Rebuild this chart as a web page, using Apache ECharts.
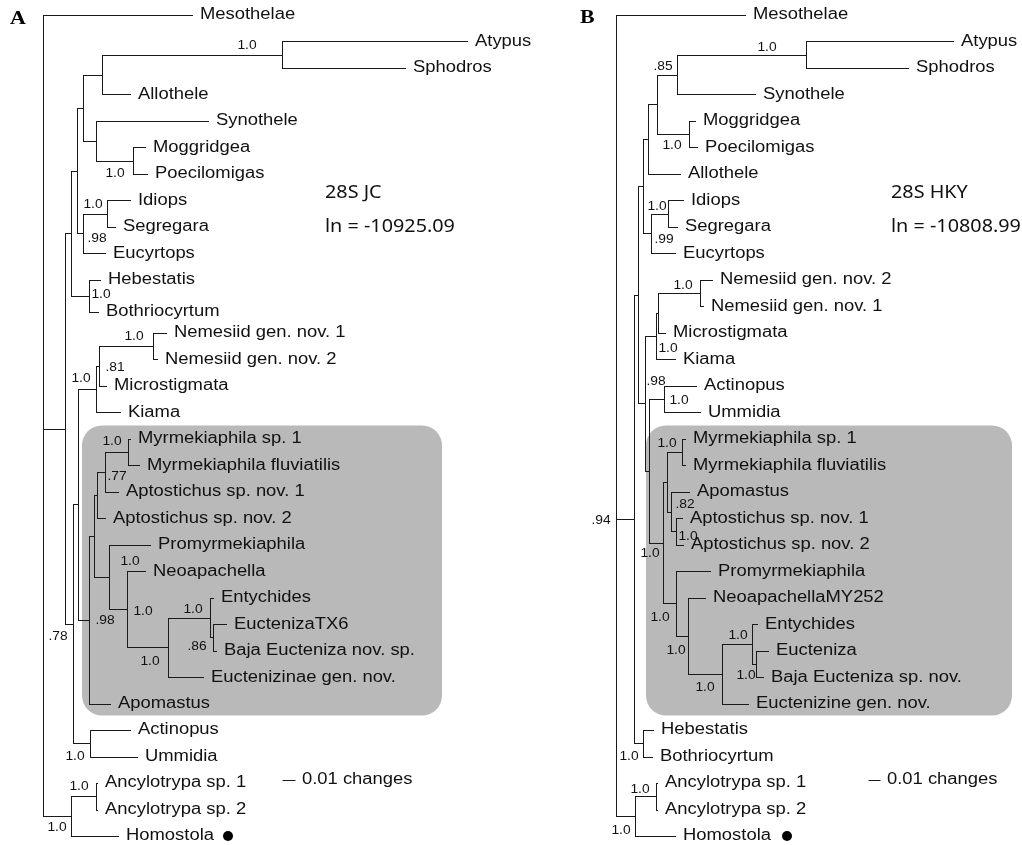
<!DOCTYPE html>
<html><head><meta charset="utf-8">
<script src="https://cdn.jsdelivr.net/npm/echarts@6/dist/echarts.min.js"></script>
<style>html,body{margin:0;padding:0;background:#fff}#c{width:1022px;height:845px}</style>
</head><body><div id="c"></div>
<script>
// ---------- Panel A (28S JC) ----------
const leavesA = ["Mesothelae","Atypus","Sphodros","Allothele","Synothele","Moggridgea","Poecilomigas","Idiops","Segregara","Eucyrtops","Hebestatis","Bothriocyrtum","Nemesiid gen. nov. 1","Nemesiid gen. nov. 2","Microstigmata","Kiama","Myrmekiaphila sp. 1","Myrmekiaphila fluviatilis","Aptostichus sp. nov. 1","Aptostichus sp. nov. 2","Promyrmekiaphila","Neoapachella","Entychides","EuctenizaTX6","Baja Eucteniza nov. sp.","Euctenizinae gen. nov.","Apomastus","Actinopus","Ummidia","Ancylotrypa sp. 1","Ancylotrypa sp. 2","Homostola"];
const rowsA = [0,1,2,3,4,5,6,7,8,9,10,11.2,12,13,14,15,16,17,18,19,20,21,22,23,24,25,26,27,28,29,30,31];
const tipDepthA = [149,424,362,87,165,102,104,87,72,62,57,55,123,114,63,77,87,96,75,62,107,102,170,183,173,160,67,87,94,54,54,75];
const leafParentA = ["root","n282","n282","n102","n96","n133","n133","n107","n107","n83b","n89","n89","n153","n153","n99","n96b","n128","n128","n105","n97","n109","n127","n210","n213","n213","n169","n89b","n90","n90","n96c","n96c","n71b"];
const nodesA = ["root","n65","n71","n77","n83a","n102","n282","n96","n133","n83b","n107","n89","n73","n78","n96b","n99","n153","n89b","n94","n97","n105","n128","n109","n127","n169","n210","n213","n90","n71b","n96c"];
const nodeDepthA = [0,22,28,34,40,59,239,53,90,40,64,46,30,35,53,56,110,46,51,54,62,85,66,84,125,167,170,47,28,53];
const nodeParentA = [null,"root","n65","n71","n77","n83a","n102","n83a","n96","n77","n83b","n71","n65","n73","n78","n96b","n99","n78","n89b","n94","n97","n105","n94","n109","n127","n169","n210","n73","root","n71b"];
const supportA = [null,null,null,null,null,null,"1.0",null,"1.0",".98","1.0","1.0",".78",null,"1.0",".81","1.0",".98",null,null,".77","1.0","1.0","1.0","1.0","1.0",".86","1.0","1.0","1.0"];
const titleA = ["28S JC","ln = -10925.09"];

// ---------- Panel B (28S HKY) ----------
const leavesB = ["Mesothelae","Atypus","Sphodros","Synothele","Moggridgea","Poecilomigas","Allothele","Idiops","Segregara","Eucyrtops","Nemesiid gen. nov. 2","Nemesiid gen. nov. 1","Microstigmata","Kiama","Actinopus","Ummidia","Myrmekiaphila sp. 1","Myrmekiaphila fluviatilis","Apomastus","Aptostichus sp. nov. 1","Aptostichus sp. nov. 2","Promyrmekiaphila","NeoapachellaMY252","Entychides","Eucteniza","Baja Eucteniza sp. nov.","Euctenizine gen. nov.","Hebestatis","Bothriocyrtum","Ancylotrypa sp. 1","Ancylotrypa sp. 2","Homostola"];
const rowsB = [0,1,2,3,4,5,6,7,8,9,10,11,12,13,14,15,16,17,18,19,20,21,22,23,24,25,26,27,28,29,30,31];
const tipDepthB = [129,337,292,139,79,81,64,67,61,59,96,87,49,59,80,84,69,69,73,66,67,94,89,141,152,147,132,37,36,41,41,59];
const leafParentB = ["root","b806","b806","b677","b689","b689","b648","b669","b669","b651","b700","b700","b658","b656","b664","b664","b682","b682","b672","b676","b676","b676b","b688","b752","b756","b756","b722","bheb","bheb","banc","banc","b635"];
const nodesB = ["root","b1","b638","b643","b648","b657","b677","b806","b689","b651","b669","b645","b656","b658","b700","b649","b664","b663","b667","b682","b672","b676","b676b","b688","b722","b752","b756","bheb","b635","banc"];
const nodeDepthB = [0,18,22,27,32,41,61,190,73,35,52,29,40,42,84,33,48,47,51,66,55,60,60,72,106,136,140,27,19,40];
const nodeParentB = [null,"root","b1","b638","b643","b648","b657","b677","b657","b643","b651","b638","b645","b656","b658","b645","b649","b649","b663","b667","b667","b672","b663","b676b","b688","b722","b752","b1","root","b635"];
const supportB = [null,".94",null,null,null,null,".85","1.0","1.0",".99","1.0",null,"1.0",null,"1.0",".98","1.0","1.0",null,"1.0",".82","1.0","1.0","1.0","1.0","1.0","1.0","1.0","1.0","1.0"];
const titleB = ["28S HKY","ln = -10808.99"];

const scaleBarText = "0.01 changes";

// ---------- placement / style (not data) ----------
const supportOffsetA = {n282:[-35,-9],n133:[-18,13],n107:[-14,-9],n83b:[14,5],n89:[12,-1],n153:[-19,-9],n99:[16,2],n96b:[-15,-10],n128:[-16,-10],n105:[12,5],n109:[21,-15],n127:[16,2],n89b:[16,1],n210:[-17,-8],n213:[-16,9],n169:[-18,14],n73:[-15,13],n90:[-15,13],n96c:[-17,-10],n71b:[-14,12]};
const supportOffsetB = {b806:[-39,-7],b677:[-14,-8],b689:[-17,12],b669:[-11,-7],b651:[13,6],b700:[-17,-7],b656:[12,13],b649:[7,-89],b664:[15,2],b682:[-15,-8],b672:[14,-7],b676:[12,5],b663:[-13,11],b676b:[-16,14],b688:[-12,15],b752:[-14,-8],b756:[-10,12],b722:[-17,14],b1:[-33,2],bheb:[-14,13],banc:[-16,-7],b635:[-14,15]};
const panelCfg = [
  {grid:{left:43,top:15,width:500,height:821}, xmax:500, box:{r0:15.5,r1:26.45,x0:39,x1:399}, bar:{x0:239,x1:252,row:28.87,tx:259}, title:{x:282,r0:6.72,r1:8.0}, dotGap:110},
  {grid:{left:616,top:15,width:400,height:821}, xmax:400, box:{r0:15.5,r1:26.45,x0:30,x1:396}, bar:{x0:252,x1:264,row:28.87,tx:271}, title:{x:275,r0:6.72,r1:8.0}, dotGap:112}
];
const SX = 1.15;
const LINE = '#1a1a1a';
const TXT = '#111';

function layout(leaves, rows, tips, leafParent, nodes, depth, parent){
  const idx = {}; nodes.forEach((n,i)=>idx[n]=i);
  const kids = nodes.map(()=>[]);
  leaves.forEach((l,i)=>kids[idx[leafParent[i]]].push({y:rows[i]}));
  nodes.forEach((n,i)=>{ if(parent[i]) kids[idx[parent[i]]].push({node:i}); });
  const info = new Array(nodes.length).fill(null);
  function getY(i){
    if(info[i]) return info[i].y;
    const ys = kids[i].map(k=>k.node!==undefined?getY(k.node):k.y);
    const mn=Math.min(...ys), mx=Math.max(...ys);
    info[i] = {y:(mn+mx)/2, mn, mx};
    return info[i].y;
  }
  nodes.forEach((n,i)=>getY(i));
  const edges = [];
  leaves.forEach((l,i)=>edges.push([depth[idx[leafParent[i]]], rows[i], tips[i], rows[i]]));
  nodes.forEach((n,i)=>{
    if(parent[i]) edges.push([depth[idx[parent[i]]], info[i].y, depth[i], info[i].y]);
    edges.push([depth[i], info[i].mn, depth[i], info[i].mx]);
  });
  return {edges, info, idx};
}

function snap(v){ return Math.round(v)+0.5; }

function buildPanel(p, leaves, rows, tips, leafParent, nodes, depth, parent, support, offs, titles){
  const cfg = panelCfg[p];
  const L = layout(leaves, rows, tips, leafParent, nodes, depth, parent);
  const ax = {xAxisIndex:p, yAxisIndex:p};
  const series = [];
  // highlight box
  series.push(Object.assign({
    type:'custom', z:1, silent:true, clip:false,
    data:[[cfg.box.x0, cfg.box.r0, cfg.box.x1, cfg.box.r1]],
    encode:{x:[0,2], y:[1,3]},
    renderItem:(params, api)=>{
      const a = api.coord([api.value(0), api.value(1)]), b = api.coord([api.value(2), api.value(3)]);
      return {type:'rect', shape:{x:a[0], y:a[1], width:b[0]-a[0], height:b[1]-a[1], r:20}, style:{fill:'#b9b9b9'}};
    }
  }, ax));
  // branches
  series.push(Object.assign({
    type:'custom', z:3, silent:true, clip:false,
    data:L.edges, encode:{x:[0,2], y:[1,3]},
    renderItem:(params, api)=>{
      const a = api.coord([api.value(0), api.value(1)]), b = api.coord([api.value(2), api.value(3)]);
      return {type:'line', shape:{x1:snap(a[0]), y1:snap(a[1]), x2:snap(b[0]), y2:snap(b[1])}, style:{stroke:LINE, lineWidth:1, lineCap:'square'}};
    }
  }, ax));
  // tip labels
  series.push(Object.assign({
    type:'custom', z:4, silent:true, clip:false,
    data:leaves.map((l,i)=>[tips[i], rows[i]]), encode:{x:0, y:1},
    renderItem:(params, api)=>{
      const a = api.coord([api.value(0), api.value(1)]);
      return {type:'text', x:a[0]+8, y:a[1], scaleX:SX, style:{text:leaves[params.dataIndex], fill:TXT, fontSize:16, fontFamily:'"Liberation Sans", Arial, sans-serif', align:'left', verticalAlign:'middle'}};
    }
  }, ax));
  // Homostola dot
  const hi = leaves.indexOf("Homostola");
  series.push(Object.assign({
    type:'custom', z:4, silent:true, clip:false,
    data:[[tips[hi], rows[hi]]], encode:{x:0,y:1},
    renderItem:(params, api)=>{
      const a = api.coord([api.value(0), api.value(1)]);
      return {type:'circle', shape:{cx:a[0]+cfg.dotGap, cy:a[1], r:5}, style:{fill:'#000'}};
    }
  }, ax));
  // support values
  const sData = [], sText = [], sOff = [];
  nodes.forEach((n,i)=>{ if(support[i]){ sData.push([depth[i], L.info[i].y]); sText.push(support[i]); sOff.push(offs[n]||[0,0]); } });
  series.push(Object.assign({
    type:'custom', z:4, silent:true, clip:false,
    data:sData, encode:{x:0,y:1},
    renderItem:(params, api)=>{
      const a = api.coord([api.value(0), api.value(1)]);
      const o = sOff[params.dataIndex];
      return {type:'text', x:a[0]+o[0], y:a[1]+o[1], scaleX:SX, style:{text:sText[params.dataIndex], fill:TXT, fontSize:12, fontFamily:'"Liberation Sans", Arial, sans-serif', align:'center', verticalAlign:'middle'}};
    }
  }, ax));
  // scale bar
  series.push(Object.assign({
    type:'custom', z:4, silent:true, clip:false,
    data:[[cfg.bar.x0, cfg.bar.row, cfg.bar.x1, cfg.bar.tx]], encode:{x:[0,2], y:1},
    renderItem:(params, api)=>{
      const a = api.coord([api.value(0), api.value(1)]), b = api.coord([api.value(2), api.value(1)]), t = api.coord([api.value(3), api.value(1)]);
      return {type:'group', children:[
        {type:'line', shape:{x1:snap(a[0]), y1:snap(a[1]), x2:snap(b[0]), y2:snap(b[1])}, style:{stroke:LINE, lineWidth:1}},
        {type:'text', x:t[0], y:t[1], scaleX:SX, style:{text:scaleBarText, fill:TXT, fontSize:16, fontFamily:'"Liberation Sans", Arial, sans-serif', align:'left', verticalAlign:'middle'}}
      ]};
    }
  }, ax));
  // model title
  series.push(Object.assign({
    type:'custom', z:4, silent:true, clip:false,
    data:[[cfg.title.x, cfg.title.r0],[cfg.title.x, cfg.title.r1]], encode:{x:0,y:1},
    renderItem:(params, api)=>{
      const a = api.coord([api.value(0), api.value(1)]);
      return {type:'text', x:a[0], y:a[1], scaleX:1.1, style:{text:titles[params.dataIndex], fill:TXT, fontSize:18, fontFamily:'"Noto Sans", "Open Sans", sans-serif', align:'left', verticalAlign:'middle'}};
    }
  }, ax));
  return series;
}

const chart = echarts.init(document.getElementById('c'), null, {renderer:'canvas'});
const series = [].concat(
  buildPanel(0, leavesA, rowsA, tipDepthA, leafParentA, nodesA, nodeDepthA, nodeParentA, supportA, supportOffsetA, titleA),
  buildPanel(1, leavesB, rowsB, tipDepthB, leafParentB, nodesB, nodeDepthB, nodeParentB, supportB, supportOffsetB, titleB)
);
chart.setOption({
  animation:false,
  backgroundColor:'#fff',
  grid: panelCfg.map(c=>Object.assign({containLabel:false}, c.grid)),
  xAxis: panelCfg.map((c,i)=>({type:'value', gridIndex:i, min:0, max:c.xmax, show:false})),
  yAxis: panelCfg.map((c,i)=>({type:'value', gridIndex:i, min:0, max:31, inverse:true, show:false})),
  graphic:[
    {type:'text', x:10, y:19, scaleX:1.15, style:{text:'A', fill:'#000', fontSize:19, fontWeight:'bold', fontFamily:'"Liberation Serif", "Times New Roman", serif', align:'left', verticalAlign:'middle'}},
    {type:'text', x:580, y:18, scaleX:1.15, style:{text:'B', fill:'#000', fontSize:19, fontWeight:'bold', fontFamily:'"Liberation Serif", "Times New Roman", serif', align:'left', verticalAlign:'middle'}}
  ],
  series: series
});
</script>
</body></html>
